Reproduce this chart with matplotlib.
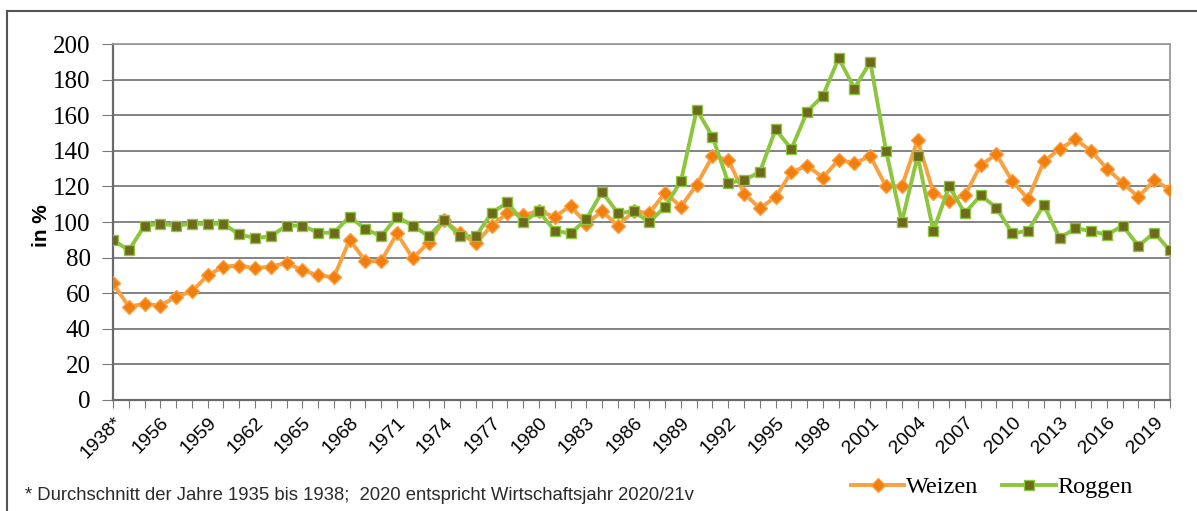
import matplotlib.pyplot as plt
from matplotlib.lines import Line2D

# Jahre (1938* = Durchschnitt 1935-1938)
jahre = ['1938*', '1954', '1955'] + [str(j) for j in range(1956, 2021)]

weizen = [65.5, 52.5, 54, 53, 58, 61, 70, 75, 75.5, 74, 75, 77, 73, 70, 69, 90, 78, 78,
          93.6, 79.6, 88.4, 101, 93.6, 88, 98, 105, 104, 106, 103, 109, 99, 106, 98, 106,
          105, 116.5, 108.6, 121, 137, 135, 116, 107.7, 114, 128, 131.6, 125, 135, 133,
          137, 120, 120, 146, 116.5, 112, 115, 132, 138, 123, 113, 134, 141, 146.4, 140,
          130, 122, 114, 123.6, 118]

roggen = [90, 84, 98, 99, 98, 99, 99, 99, 93, 91, 92, 98, 98, 94, 94, 103, 96, 92,
          103, 98, 92, 101, 92, 92, 105, 111, 100, 106, 95, 93.6, 101.5, 117, 105, 106,
          100, 108.6, 123, 163, 148, 122, 123.6, 128, 152, 141, 162, 171, 192, 175,
          190, 140, 100, 137, 95, 120, 105, 115, 108, 93.6, 95, 109.6, 91, 96.4, 95,
          92.7, 98, 86.5, 94, 84]

fig = plt.figure(figsize=(11.97, 5.11), dpi=100)
ax = fig.add_axes([113 / 1197, 1 - 400 / 511, 1057 / 1197, 356 / 511])

x = range(len(jahre))
ax.plot(x, weizen, color='#F9A03F', lw=2.8, marker='D', ms=7,
        mfc='#F27E0F', mec='#F9A03F', label='Weizen', zorder=3)
ax.plot(x, roggen, color='#8CC63E', lw=2.8, marker='s', ms=7.5,
        mfc='#6E6A1C', mec='#8CC63E', label='Roggen', zorder=4)

ax.set_xlim(0, len(jahre) - 1)
ax.set_ylim(0, 200)
ax.set_yticks(range(0, 201, 20))
ax.set_xticks(list(x))
ax.set_xticklabels([j if i % 3 == 0 else '' for i, j in enumerate(jahre)],
                   rotation=45, ha='right', rotation_mode='anchor',
                   family='Liberation Sans', fontsize=14)
for lab in ax.get_yticklabels():
    lab.set_family('Liberation Serif')
    lab.set_fontsize(18)

ax.grid(axis='y', color='#7a7a7a', lw=1.3)
ax.set_axisbelow(True)
ax.tick_params(axis='x', direction='out', length=6, color='#7a7a7a', pad=4)
ax.tick_params(axis='y', direction='out', length=8, color='#7a7a7a', pad=8)
for s in ['top', 'right']:
    ax.spines[s].set_color('#9a9a9a')
    ax.spines[s].set_linewidth(1.3)
for s in ['left', 'bottom']:
    ax.spines[s].set_color('#6a6a6a')
    ax.spines[s].set_linewidth(1.6)

ax.set_ylabel('in %', family='Liberation Sans', fontweight='bold', fontsize=15, labelpad=0)
ax.yaxis.set_label_coords(-62 / 1057, 0.49)

# Rahmen links und oben
fig.add_artist(Line2D([7 / 1197, 7 / 1197], [0, 1 - 11 / 511], color='#555555', lw=1.5))
fig.add_artist(Line2D([7 / 1197, 1], [1 - 11 / 511, 1 - 11 / 511], color='#555555', lw=1.5))

fig.text(25 / 1197, 1 - 495 / 511, '* Durchschnitt der Jahre 1935 bis 1938;  2020 entspricht Wirtschaftsjahr 2020/21v',
         family='Liberation Sans', fontsize=13.3, color='#2a2a2a', va='center')

fig.legend(loc='center left', bbox_to_anchor=(851 / 1197, 1 - 487 / 511), ncol=2,
           frameon=False, prop={'family': 'Liberation Serif', 'size': 17.5},
           handlelength=2.2, handletextpad=0.05, columnspacing=1.0, borderaxespad=0,
           borderpad=0)

fig.savefig('out.png', dpi=100)
